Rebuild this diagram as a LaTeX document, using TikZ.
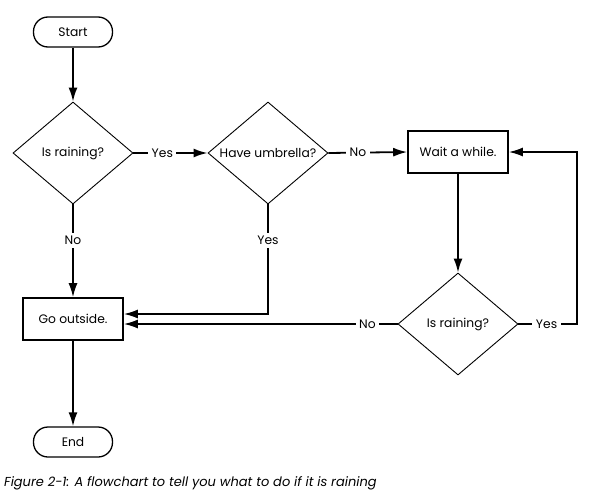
\documentclass[tikz,border=0pt]{standalone}
\usepackage{fontspec}
\setmainfont{Poppins}
\usetikzlibrary{shapes.geometric,arrows.meta}
\begin{document}
\begin{tikzpicture}[x=1pt,y=-1pt,
  every node/.style={font=\fontsize{12.3}{14}\selectfont},
  terminal/.style={draw,line width=1.3pt,rounded corners=14.5pt,
    minimum width=79pt,minimum height=30pt,inner sep=0pt},
  decision/.style={draw,diamond,line width=0.9pt,aspect=1.18,inner sep=0pt,
    minimum width=120pt,minimum height=102pt},
  process/.style={draw,rectangle,line width=1.6pt,
    minimum width=100pt,minimum height=42pt,inner sep=0pt},
  flow/.style={line width=1.8pt,-{Latex[length=14pt,width=9pt]}},
  lbl/.style={fill=white,inner sep=3.5pt}]

\useasboundingbox (0,0) rectangle (589,495);

% nodes
\node[terminal] (start) at (73,32) {Start};
\node[decision] (rain1) at (73,153) {Is raining?};
\node[decision] (umb) at (268,153) {Have umbrella?};
\node[process] (wait) at (458,152) {Wait a while.};
\node[decision] (rain2) at (458,324) {Is raining?};
\node[process] (go) at (73,319) {Go outside.};
\node[terminal] (end) at (73,442) {End};

% entry points on the right side of "Go outside."
\coordinate (goA) at ([yshift=5pt]go.east);
\coordinate (goB) at ([yshift=-5pt]go.east);
\coordinate (loop) at (577,324);

% connectors
\draw[flow] (start) -- (rain1);
\draw[flow] (rain1.east) -- node[lbl,pos=0.39]{Yes} (umb.west);
\draw[flow] (umb.east) -- node[lbl,pos=0.375]{No} (wait.west);
\draw[flow] (rain1.south) -- node[lbl,pos=0.39]{No} (go.north);
\draw[flow] (umb.south) -- node[lbl,pos=0.33]{Yes} (umb.south |- goA) -- (goA);
\draw[flow] (wait.south) -- (rain2.north);
\draw[flow] (rain2.east) -- node[lbl,pos=0.48]{Yes} (loop) |- (wait.east);
\draw[flow] (rain2.west) -- node[lbl,pos=0.11]{No} (goB);
\draw[flow] (go.south) -- (end.north);

% caption
\node[anchor=west,inner sep=0pt,font=\fontsize{13}{15}\selectfont\itshape] (caption) at (4,483)
  {Figure 2-1: A flowchart to tell you what to do if it is raining};
\end{tikzpicture}
\end{document}
